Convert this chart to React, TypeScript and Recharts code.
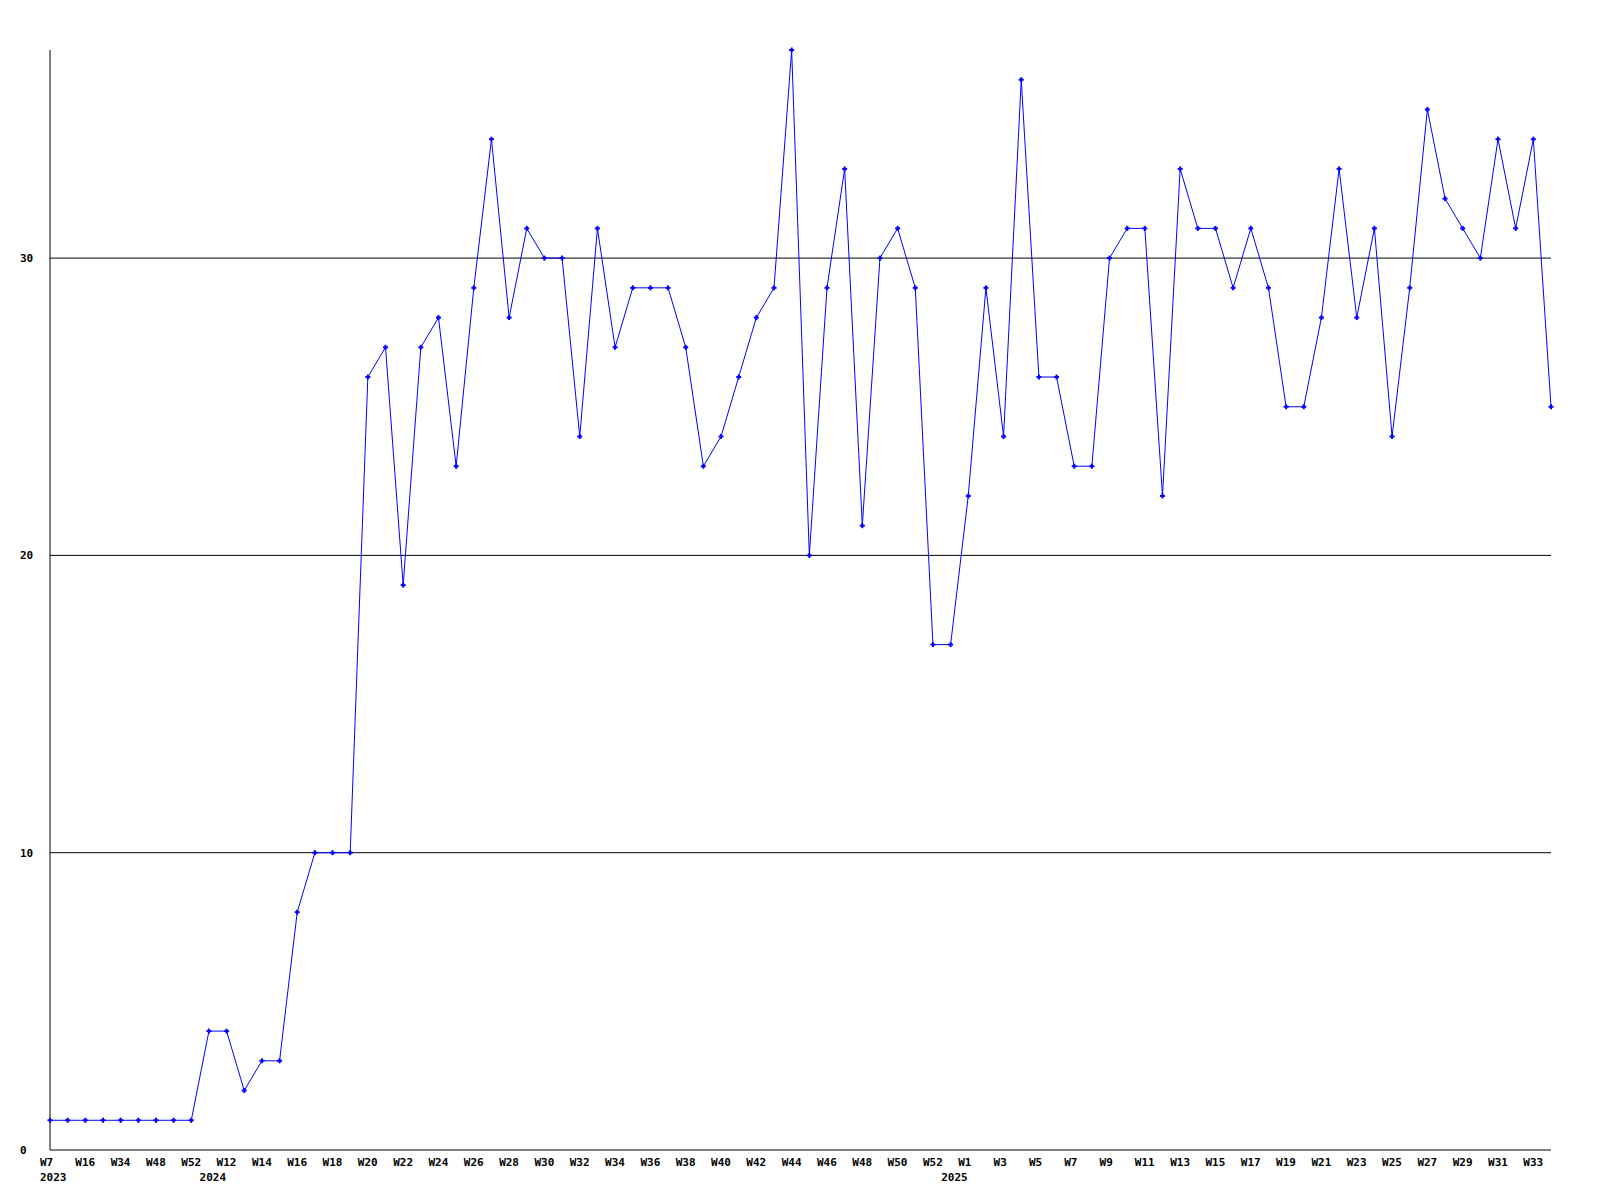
import { LineChart, Line, XAxis, YAxis, ReferenceLine } from "recharts";

// week labels per year, in the order they appear on the axis
const weeks2023 = ["W7", "W10", "W16", "W27", "W34", "W41", "W48", "W50", "W52"];
const weeks2024 = [
  "W11", "W12", "W13", "W14", "W15", "W16", "W17", "W18", "W19", "W20",
  "W21", "W22", "W23", "W24", "W25", "W26", "W27", "W28", "W29", "W30",
  "W31", "W32", "W33", "W34", "W35", "W36", "W37", "W38", "W39", "W40",
  "W41", "W42", "W43", "W44", "W45", "W46", "W47", "W48", "W49", "W50",
  "W51", "W52", "W53",
];
const weeks2025 = [
  "W1", "W2", "W3", "W4", "W5", "W6", "W7", "W8", "W9", "W10",
  "W11", "W12", "W13", "W14", "W15", "W16", "W17", "W18", "W19", "W20",
  "W21", "W22", "W23", "W24", "W25", "W26", "W27", "W28", "W29", "W30",
  "W31", "W32", "W33", "W34",
];

const counts = [
  1, 1, 1, 1, 1, 1, 1, 1, 1, 4,
  4, 2, 3, 3, 8, 10, 10, 10, 26, 27,
  19, 27, 28, 23, 29, 34, 28, 31, 30, 30,
  24, 31, 27, 29, 29, 29, 27, 23, 24, 26,
  28, 29, 37, 20, 29, 33, 21, 30, 31, 29,
  17, 17, 22, 29, 24, 36, 26, 26, 23, 23,
  30, 31, 31, 22, 33, 31, 31, 29, 31, 29,
  25, 25, 28, 33, 28, 31, 24, 29, 35, 32,
  31, 30, 34, 31, 34, 25,
];

const yTicks = [0, 10, 20, 30];
const gridValues = [10, 20, 30];

const keys: string[] = [
  ...weeks2023.map((w) => `2023-${w}`),
  ...weeks2024.map((w) => `2024-${w}`),
  ...weeks2025.map((w) => `2025-${w}`),
];

const data = keys.map((k, i) => ({ key: k, value: counts[i] }));

// only every other tick is labelled; the year goes under the first labelled tick of each year
const yearLabelAt = new Set<string>();
keys.forEach((k, i) => {
  if (i % 2 !== 0) return;
  const y = k.split("-")[0];
  if (i === 0 || keys[i - 2].split("-")[0] !== y) yearLabelAt.add(k);
});

const font = {
  fontFamily: "'DejaVu Sans Mono', monospace",
  fontWeight: "bold" as const,
  fontSize: 11,
  fill: "#000",
};

const WeekTick = ({ x, y, payload }: any) => {
  const [year, week] = String(payload.value).split("-");
  const first = payload.value === keys[0];
  return (
    <g>
      <text x={x - 10} y={y + 16} textAnchor="start" style={font}>
        {week}
      </text>
      {yearLabelAt.has(payload.value) && (
        <text x={first ? x - 10 : x - 27} y={y + 31} textAnchor="start" style={font}>
          {year}
        </text>
      )}
    </g>
  );
};

const CountTick = ({ y, payload }: any) => (
  <text x={20} y={y + 4} textAnchor="start" style={font}>
    {payload.value}
  </text>
);

const Marker = ({ cx, cy }: any) => (
  <g fill="#0000ff">
    <rect x={cx - 2.5} y={cy - 1} width={5} height={2} />
    <rect x={cx - 1} y={cy - 2.5} width={2} height={5} />
  </g>
);

export default function App() {
  return (
    <div style={{ position: "absolute", left: 0, top: 0, width: 1600, height: 1200, background: "#fff" }}>
      <LineChart
        width={1600}
        height={1200}
        data={data}
        margin={{ top: 50, right: 49, bottom: 0, left: 0 }}
      >
        <XAxis
          dataKey="key"
          interval={1}
          height={50}
          tickSize={0}
          tickMargin={0}
          tickLine={false}
          axisLine={{ stroke: "#000" }}
          tick={<WeekTick />}
        />
        <YAxis
          width={50}
          domain={[0, 37]}
          ticks={yTicks}
          tickLine={false}
          axisLine={{ stroke: "#000" }}
          tick={<CountTick />}
        />
        {gridValues.map((v) => (
          <ReferenceLine key={v} y={v} stroke="#000" strokeWidth={1} />
        ))}
        <Line
          type="linear"
          dataKey="value"
          stroke="#0000ff"
          strokeWidth={1}
          dot={<Marker />}
          activeDot={false}
          isAnimationActive={false}
        />
      </LineChart>
    </div>
  );
}
